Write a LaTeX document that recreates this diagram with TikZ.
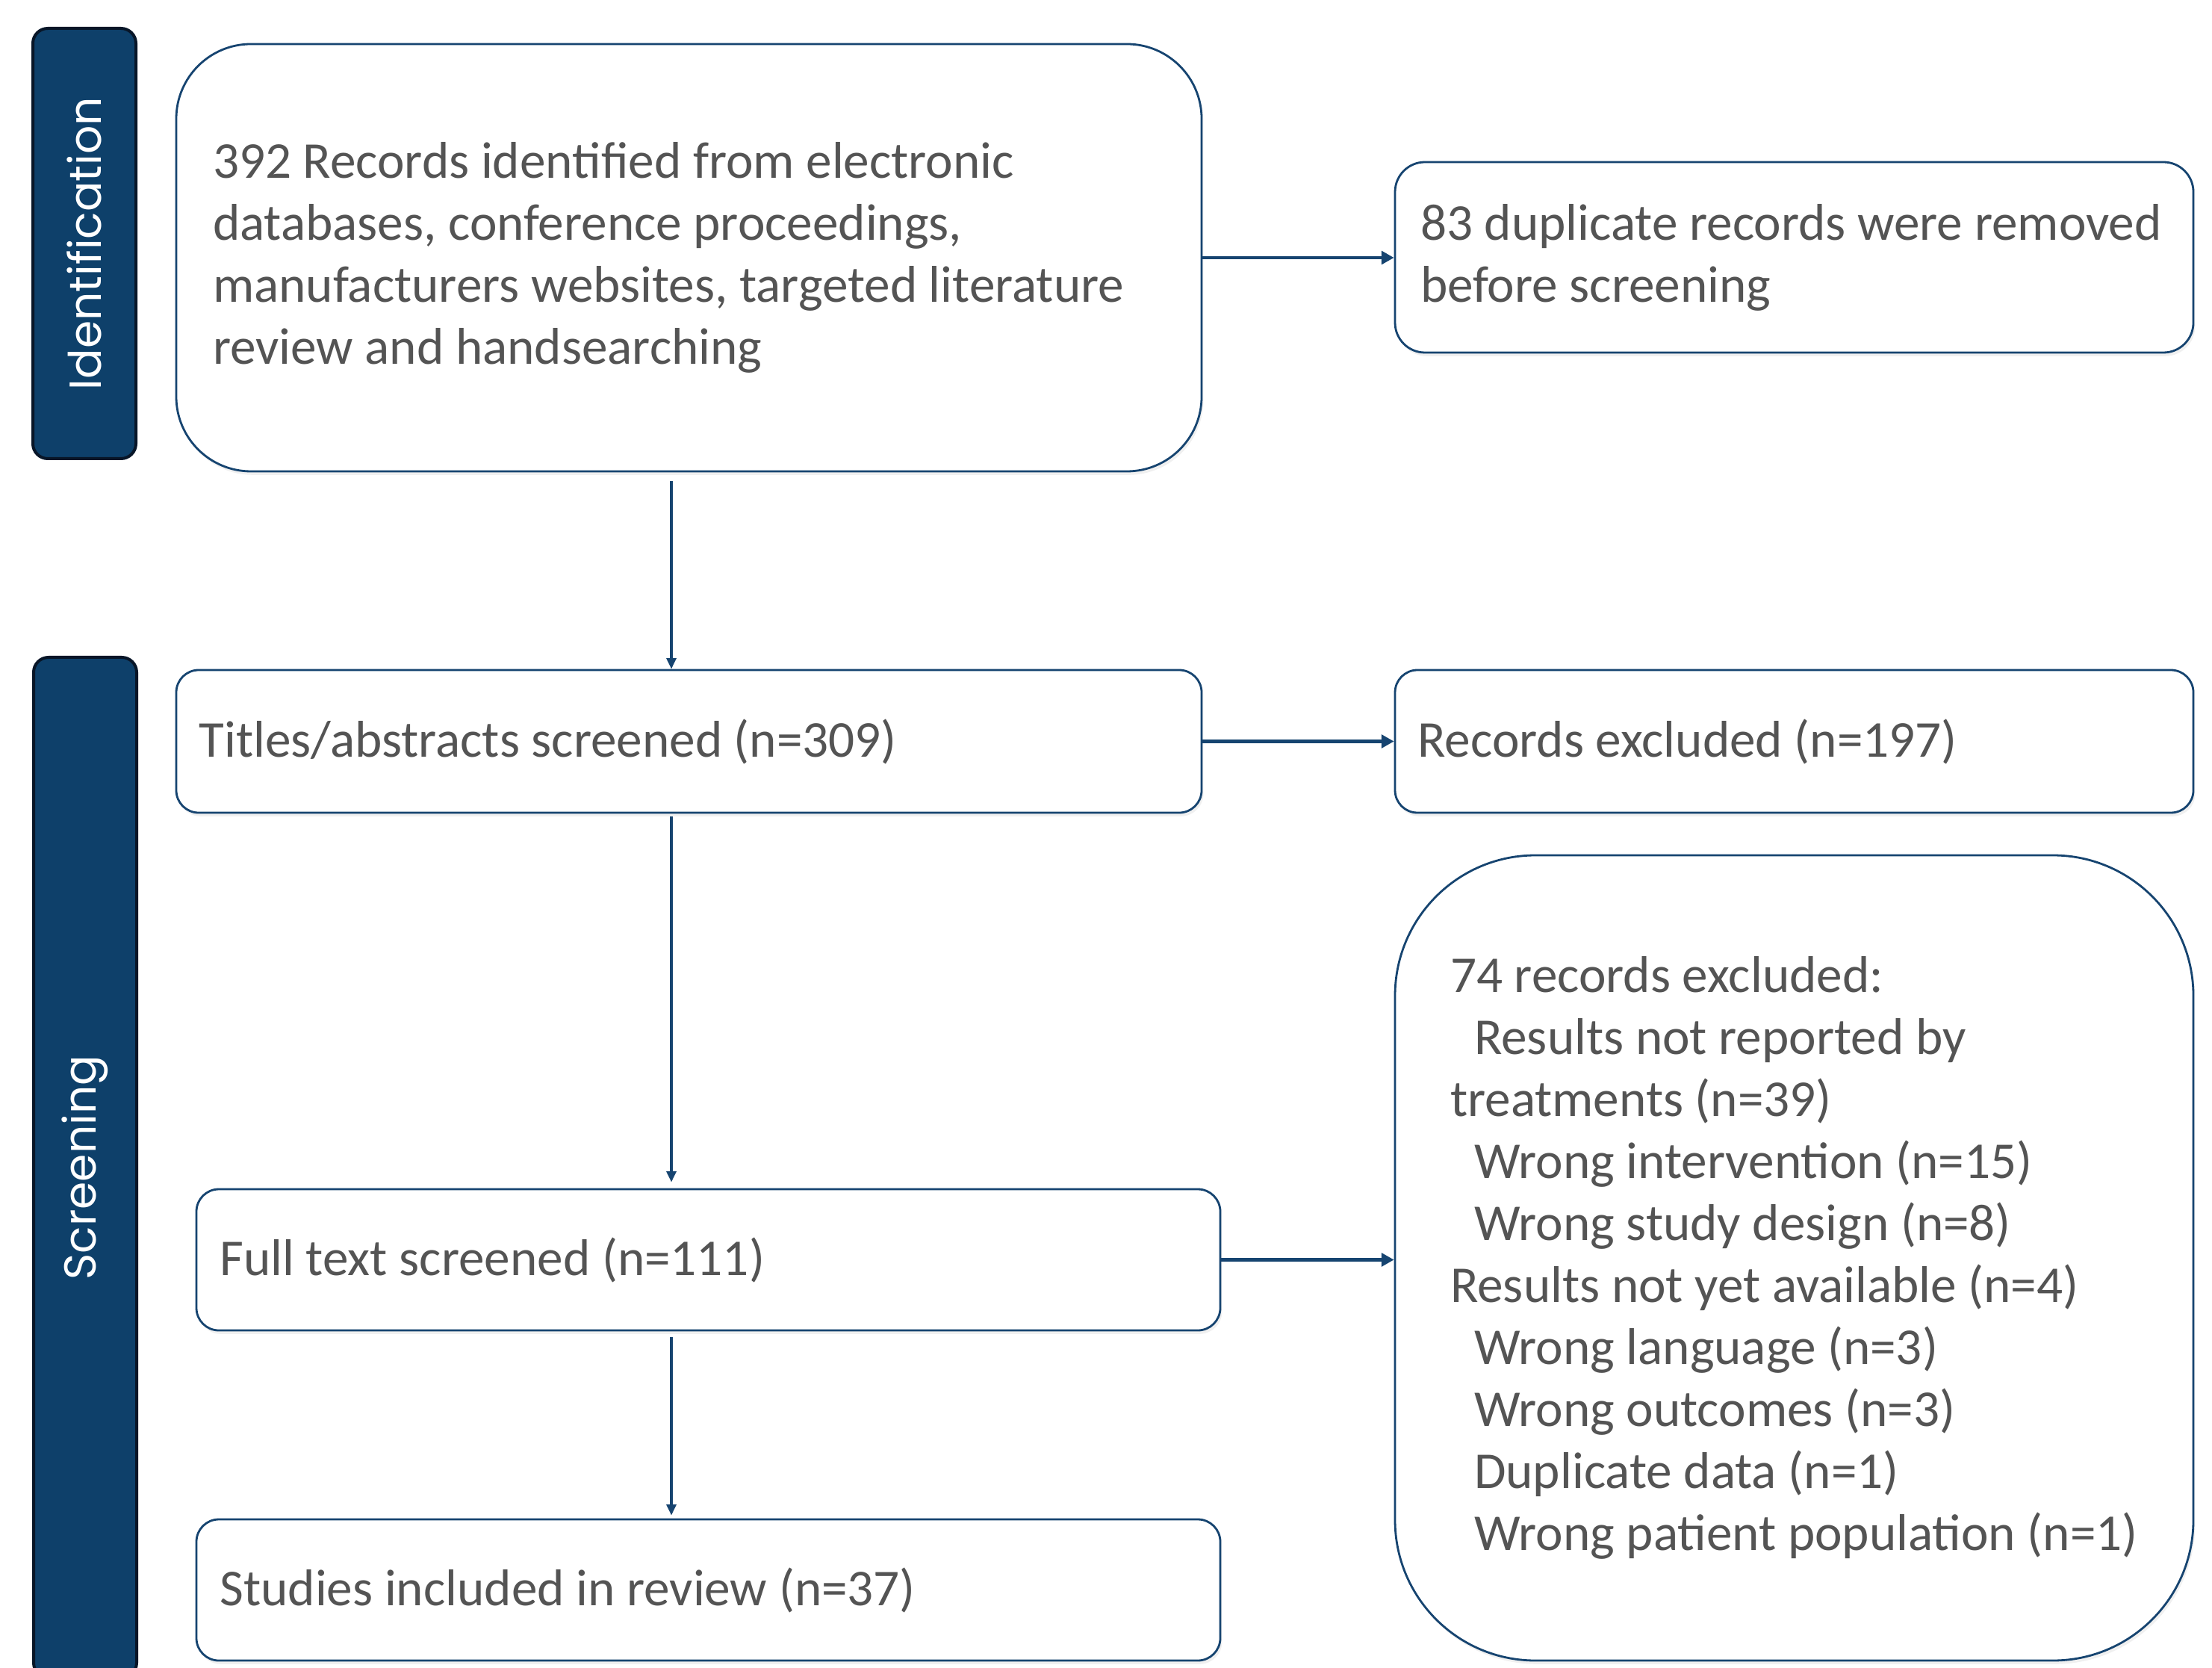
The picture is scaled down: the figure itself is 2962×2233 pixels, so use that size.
\documentclass[tikz,border=0pt]{standalone}
\usepackage{fontspec}
\setmainfont{Carlito}
\newfontfamily\barfont{Poppins}
\usetikzlibrary{arrows.meta,shadows}
\definecolor{barfill}{RGB}{14,64,106}
\definecolor{bardraw}{RGB}{8,22,40}
\definecolor{lineblue}{RGB}{22,68,112}
\definecolor{txtgray}{RGB}{84,84,84}
\tikzset{
  phasebar/.style={draw=bardraw, line width=1pt, fill=barfill, rounded corners=5pt,
    text=white, font=\barfont\fontsize{15pt}{18pt}\selectfont, inner sep=0pt},
  flowbox/.style={draw=lineblue, line width=0.7pt, fill=white, text=txtgray,
    font=\fontsize{17.3pt}{20.75pt}\selectfont, align=flush left, inner ysep=0pt,
    drop shadow={opacity=0.12, shadow xshift=0.6pt, shadow yshift=-1.2pt}},
  harrow/.style={draw=lineblue, line width=1.2pt, -{Triangle[length=4.2pt,width=4.4pt]}},
  varrow/.style={draw=lineblue, line width=0.8pt, -{Triangle[length=3.6pt,width=3.2pt]}}
}
\begin{document}
\begin{tikzpicture}[x=0.25pt,y=-0.25pt]
\useasboundingbox (0,0) rectangle (2962,2233);
% phase bars
\node[phasebar, minimum width=34.5pt, minimum height=144pt] (bar1) at (113,326)
  {\rotatebox{90}{Identification}};
\node[phasebar, minimum width=34.5pt, minimum height=341.5pt] (bar2) at (114,1563)
  {\rotatebox{90}{Screening}};
% boxes
\node[flowbox, rounded corners=25pt, minimum width=343.25pt, minimum height=143pt,
  text width=318.75pt, inner xsep=12.25pt] (b1) at (922.5,345)
  {392 Records identified from electronic\\databases, conference proceedings,\\\mbox{manufacturers websites, targeted literature}\\review and handsearching};
\node[flowbox, rounded corners=10pt, minimum width=267.25pt, minimum height=63.75pt,
  text width=250.25pt, inner xsep=8.5pt] (b2) at (2402.5,344.5)
  {\mbox{83 duplicate records were removed}\\before screening};
\node[flowbox, rounded corners=7.5pt, minimum width=343.25pt, minimum height=47.75pt,
  text width=328pt, inner xsep=7.5pt] (b3) at (922.5,992.5)
  {Titles/abstracts screened (n=309)};
\node[flowbox, rounded corners=7.5pt, minimum width=267.25pt, minimum height=47.75pt,
  text width=252pt, inner xsep=7.5pt] (b4) at (2402.5,992.5)
  {Records excluded (n=197)};
\node[flowbox, rounded corners=47pt, minimum width=267.25pt, minimum height=269.5pt] (b7) at (2402.5,1684)
  {74 records excluded:\\
   \hspace*{8pt}Results not reported by\\
   treatments (n=39)\\
   \hspace*{8pt}Wrong intervention (n=15)\\
   \hspace*{8pt}Wrong study design (n=8)\\
   Results not yet available (n=4)\\
   \hspace*{8pt}Wrong language (n=3)\\
   \hspace*{8pt}Wrong outcomes (n=3)\\
   \hspace*{8pt}Duplicate data (n=1)\\
   \hspace*{8pt}Wrong patient population (n=1)};
\node[flowbox, rounded corners=7.5pt, minimum width=342.75pt, minimum height=47.25pt,
  text width=327pt, inner xsep=7.8pt] (b5) at (948.5,1686.5)
  {Full text screened (n=111)};
\node[flowbox, rounded corners=7.5pt, minimum width=342.75pt, minimum height=47.25pt,
  text width=327pt, inner xsep=7.5pt] (b6) at (948.5,2128.5)
  {Studies included in review (n=37)};
% connectors
\coordinate (col) at (899,0);
\draw[harrow] (b1.east) -- (b1.east -| b2.west);
\draw[harrow] (b3.east) -- (b3.east -| b4.west);
\draw[harrow] (b5.east) -- (b5.east -| b7.west);
\draw[varrow, shorten <=3pt] (b1.south -| col) -- (b3.north -| col);
\draw[varrow, shorten <=1pt, shorten >=2pt] (b3.south -| col) -- (b5.north -| col);
\draw[varrow, shorten <=2pt, shorten >=1pt] (b5.south -| col) -- (b6.north -| col);
\end{tikzpicture}
\end{document}
